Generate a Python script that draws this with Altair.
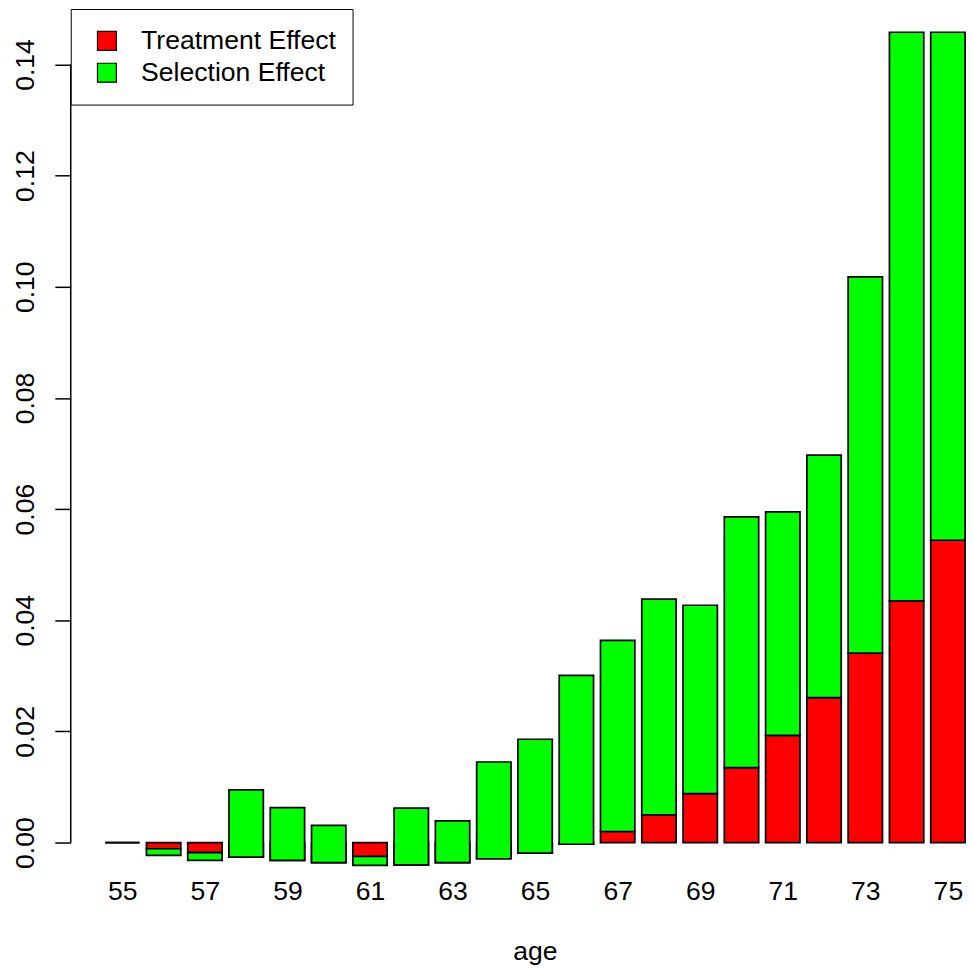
import altair as alt
import pandas as pd

ages = list(range(55, 76))
treatment = [0.0, -0.0011, -0.0018, -0.0026, -0.0032, -0.0036, -0.0025, -0.0040, -0.0036,
             -0.0029, -0.0019, -0.0003, 0.0020, 0.0050, 0.0088, 0.0135, 0.0193, 0.0261,
             0.0341, 0.0435, 0.0544]
selection = [0.0, -0.0012, -0.0014, 0.0121, 0.0095, 0.0067, -0.0016, 0.0102, 0.0075,
             0.0174, 0.0205, 0.0304, 0.0344, 0.0388, 0.0339, 0.0451, 0.0402, 0.0436,
             0.0677, 0.1023, 0.0914]
series_names = ["Treatment Effect", "Selection Effect"]
series_colors = ["#FF0000", "#00FF00"]
x_tick_values = list(range(55, 76, 2))
y_tick_values = [0.0, 0.02, 0.04, 0.06, 0.08, 0.10, 0.12, 0.14]

# R-style cumulative stacking (barplot, beside=FALSE)
rows = []
for a, t in zip(ages, treatment):
    rows.append({"age": a, "effect": series_names[0], "lo": 0.0, "hi": t})
for a, t, s in zip(ages, treatment, selection):
    rows.append({"age": a, "effect": series_names[1], "lo": t, "hi": t + s})
df = pd.DataFrame(rows)

FONT = "Liberation Sans"
FS = 26.67

x_scale = alt.Scale(domain=[53.75, 75.439], nice=False, zero=False, padding=0)
y_scale = alt.Scale(domain=[-0.005, 0.1498], nice=False, zero=False, padding=0)

y_axis = alt.Axis(values=y_tick_values, format=".2f", domain=False, grid=False,
                  tickSize=16, tickColor="black", tickWidth=1.5,
                  labelAngle=-90, labelAlign="center", labelBaseline="alphabetic",
                  labelPadding=21.7, labelFontSize=FS, labelFont=FONT,
                  labelColor="black", labelOverlap=False, labelFlush=False,
                  title=None)

bars = alt.Chart(df).mark_bar(width=34.5, stroke="black", strokeWidth=1.7).encode(
    x=alt.X("age:Q", scale=x_scale,
            axis=alt.Axis(values=x_tick_values, format="d", domain=False, ticks=False,
                          tickSize=0, grid=False, labelPadding=29, labelBaseline="alphabetic",
                          labelFontSize=FS, labelFont=FONT, labelColor="black",
                          labelOverlap=False, labelFlush=False,
                          title="age", titleFont=FONT, titleFontSize=FS,
                          titleFontWeight="normal", titleColor="black",
                          titleBaseline="alphabetic", titleX=466, titleY=89)),
    y=alt.Y("lo:Q", scale=y_scale, axis=y_axis),
    y2="hi:Q",
    color=alt.Color("effect:N",
                    scale=alt.Scale(domain=series_names, range=series_colors),
                    sort=series_names,
                    legend=alt.Legend(title=None, orient="none", legendX=0, legendY=-1,
                                      symbolType="square", symbolSize=361,
                                      symbolStrokeColor="black", symbolStrokeWidth=1.2,
                                      labelFontSize=FS, labelFont=FONT, labelColor="black",
                                      labelLimit=600, clipHeight=32,
                                      labelOffset=21, rowPadding=0, padding=16,
                                      strokeColor="black", fillColor="white",
                                      symbolOffset=7)),
)

axis_df = pd.DataFrame({"lo": [min(y_tick_values)], "hi": [max(y_tick_values)]})
axis_line = alt.Chart(axis_df).mark_rule(color="black", strokeWidth=1.5).encode(
    x=alt.value(0),
    y=alt.Y("lo:Q", scale=y_scale, axis=y_axis),
    y2="hi:Q",
)

chart = alt.layer(bars, axis_line).properties(
    width=899, height=864,
    autosize=alt.AutoSizeParams(type="none"),
    padding={"left": 63, "top": 0, "right": 0, "bottom": 95},
    view=alt.ViewBackground(stroke=None, strokeWidth=0),
).configure_view(stroke=None, strokeWidth=0).configure_axis(grid=False, domain=False).configure(background="white")

chart.save("out.html", embed_options={"renderer": "svg", "actions": False})
